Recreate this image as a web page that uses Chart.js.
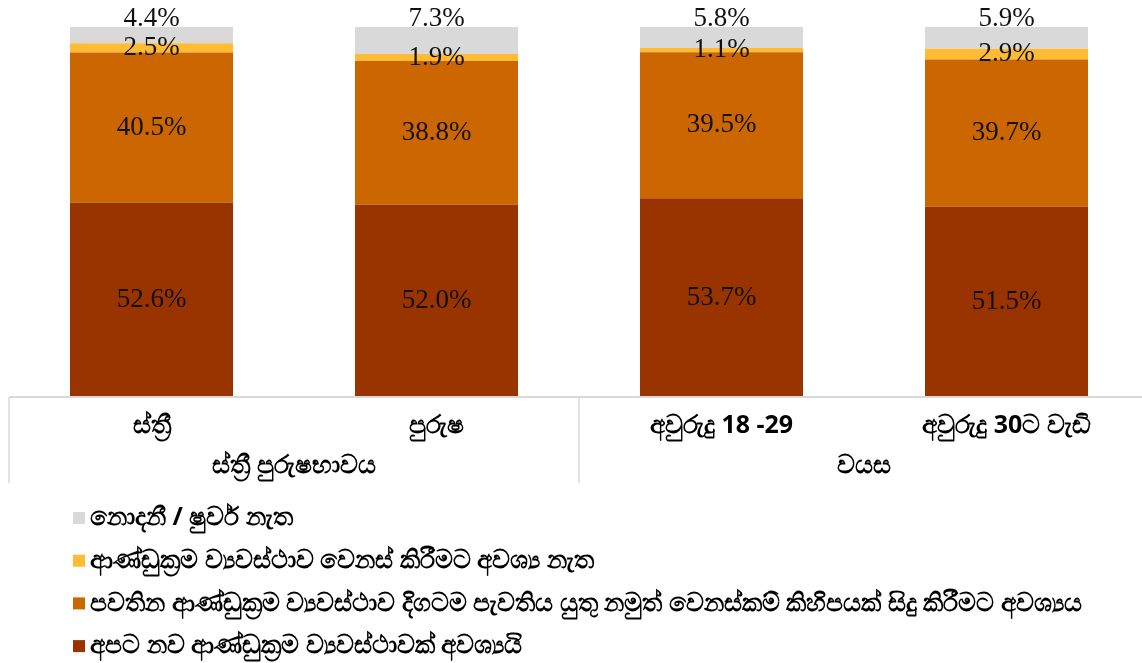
<!DOCTYPE html>
<html>
<head>
<meta charset="utf-8">
<script src="https://cdn.jsdelivr.net/npm/chart.js@4"></script>
<style>
  html, body { margin: 0; padding: 0; background: #fff; overflow: hidden; }
  #wrap { width: 1150px; height: 663px; }
</style>
</head>
<body>
<div id="wrap"><canvas id="chart"></canvas></div>
<script>
// data
const categories = ['ස්ත්‍රී', 'පුරුෂ', 'අවුරුදු 18 -29', 'අවුරුදු 30ට වැඩි'];
const groups = ['ස්ත්‍රී පුරුෂභාවය', 'වයස'];
const groupSizes = [2, 2];

const seriesNames = [
  'අපට නව ආණ්ඩුක්‍රම ව්‍යවස්ථාවක් අවශ්‍යයි',
  'පවතින ආණ්ඩුක්‍රම ව්‍යවස්ථාව දිගටම පැවතිය යුතු නමුත් වෙනස්කම් කිහිපයක් සිදු කිරීමට අවශ්‍යය',
  'ආණ්ඩුක්‍රම ව්‍යවස්ථාව වෙනස් කිරීමට අවශ්‍ය නැත',
  'නොදනී / ෂුවර් නැත'
];
const needNew = [52.6, 52.0, 53.7, 51.5];
const someChanges = [40.5, 38.8, 39.5, 39.7];
const noChange = [2.5, 1.9, 1.1, 2.9];
const dontKnow = [4.4, 7.3, 5.8, 5.9];

const colors = ['#993300', '#CC6600', '#FFBB33', '#D9D9D9'];
const labelFont = '27px "Liberation Serif", "DejaVu Serif", serif';
const sinFont = '"Noto Sans", "DejaVu Sans", sans-serif';

// value labels inside segments (top series sits just above the bar)
const valueLabels = {
  id: 'valueLabels',
  afterDatasetsDraw(chart) {
    const ctx = chart.ctx;
    ctx.save();
    ctx.font = labelFont;
    ctx.fillStyle = '#111';
    ctx.textAlign = 'center';
    ctx.textBaseline = 'middle';
    const last = chart.data.datasets.length - 1;
    chart.data.datasets.forEach((ds, di) => {
      const meta = chart.getDatasetMeta(di);
      meta.data.forEach((bar, i) => {
        const txt = ds.data[i].toFixed(1) + '%';
        let y = (bar.y + bar.base) / 2;
        if (di === last) y = bar.y - 8;
        ctx.fillText(txt, bar.x, y);
      });
    });
    ctx.restore();
  }
};

// two-level category axis and vertical legend
const axisAndLegend = {
  id: 'axisAndLegend',
  afterDraw(chart) {
    const ctx = chart.ctx;
    const x = chart.scales.x;
    const area = chart.chartArea;
    const step = x.getPixelForValue(1) - x.getPixelForValue(0);
    const y0 = area.bottom;
    ctx.save();
    ctx.strokeStyle = '#D9D9D9';
    ctx.lineWidth = 2;
    ctx.beginPath();
    ctx.moveTo(area.left, y0);
    ctx.lineTo(area.right, y0);
    ctx.stroke();

    ctx.fillStyle = '#000';
    ctx.textAlign = 'center';
    ctx.textBaseline = 'middle';
    ctx.font = 'bold 25px ' + sinFont;
    categories.forEach((c, i) => ctx.fillText(c, x.getPixelForValue(i), y0 + 29));

    let start = 0;
    const bounds = [x.getPixelForValue(0) - step / 2];
    groups.forEach((g, gi) => {
      const end = start + groupSizes[gi] - 1;
      const mid = (x.getPixelForValue(start) + x.getPixelForValue(end)) / 2;
      ctx.fillText(g, mid, y0 + 69);
      bounds.push(x.getPixelForValue(end) + step / 2);
      start = end + 1;
    });
    ctx.lineWidth = 1.5;
    bounds.forEach(b => {
      ctx.beginPath();
      ctx.moveTo(b, y0);
      ctx.lineTo(b, y0 + 86);
      ctx.stroke();
    });

    // legend, top entry is the last series
    ctx.textAlign = 'left';
    ctx.font = 'bold 25px ' + sinFont;
    for (let k = 0; k < seriesNames.length; k++) {
      const si = seriesNames.length - 1 - k;
      const cy = 518 + k * 42.7;
      ctx.fillStyle = colors[si];
      ctx.fillRect(73, cy - 6, 12, 12);
      ctx.fillStyle = '#000';
      ctx.fillText(seriesNames[si], 90, cy);
    }
    ctx.restore();
  }
};

const ctx = document.getElementById('chart').getContext('2d');
new Chart(ctx, {
  type: 'bar',
  data: {
    labels: categories,
    datasets: [needNew, someChanges, noChange, dontKnow].map((d, i) => ({
      label: seriesNames[i],
      data: d,
      backgroundColor: colors[i],
      borderWidth: 0,
      categoryPercentage: 1,
      barPercentage: 0.572
    }))
  },
  options: {
    responsive: true,
    maintainAspectRatio: false,
    animation: false,
    layout: { padding: { top: 27, bottom: 266, left: 9, right: 1 } },
    plugins: {
      legend: { display: false },
      tooltip: { enabled: false }
    },
    scales: {
      x: { stacked: true, display: false },
      y: { stacked: true, display: false, min: 0, max: 100 }
    }
  },
  plugins: [valueLabels, axisAndLegend]
});
</script>
</body>
</html>
